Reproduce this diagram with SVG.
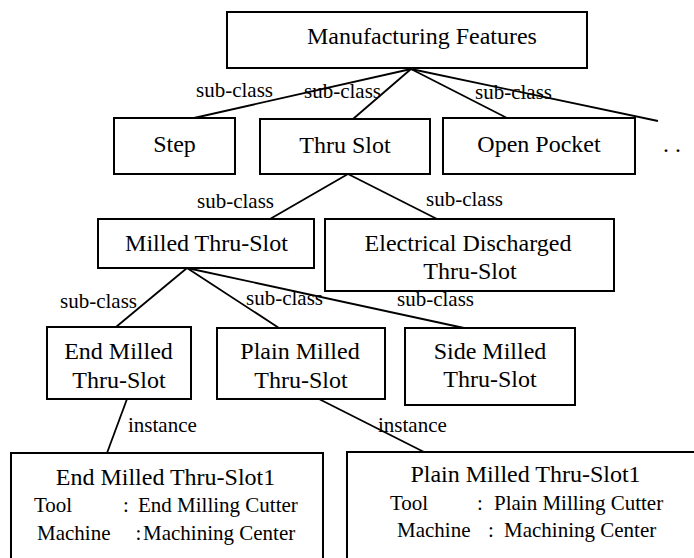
<svg xmlns="http://www.w3.org/2000/svg" width="694" height="558" viewBox="0 0 694 558">
<style>
.box{fill:#fff;stroke:#000;stroke-width:2}
.ln{stroke:#000;stroke-width:1.8;fill:none}
.t{font-family:"Liberation Serif","Times New Roman",serif;font-size:24px;fill:#000;text-anchor:middle}
.lb{font-family:"Liberation Serif","Times New Roman",serif;font-size:21px;fill:#000}
.at{font-family:"Liberation Serif","Times New Roman",serif;font-size:21px;fill:#000}
</style>
<rect width="694" height="558" fill="#fff"/>
<g id="connectors">
<line class="ln" x1="411" y1="69" x2="194" y2="118"/>
<line class="ln" x1="411" y1="69" x2="353" y2="119"/>
<line class="ln" x1="411" y1="69" x2="507" y2="118"/>
<line class="ln" x1="411" y1="69" x2="658" y2="121"/>
<line class="ln" x1="348" y1="174" x2="270" y2="219"/>
<line class="ln" x1="348" y1="174" x2="437" y2="219"/>
<line class="ln" x1="187" y1="268" x2="116" y2="327"/>
<line class="ln" x1="187" y1="268" x2="279" y2="328"/>
<line class="ln" x1="187" y1="268" x2="464" y2="328"/>
<line class="ln" x1="127" y1="399" x2="107" y2="453"/>
<line class="ln" x1="319" y1="399" x2="424" y2="452"/>
<text class="lb" x="196" y="97">sub-class</text>
<text class="lb" x="304" y="98">sub-class</text>
<text class="lb" x="475" y="99">sub-class</text>
<text class="lb" x="197" y="208">sub-class</text>
<text class="lb" x="426" y="206">sub-class</text>
<text class="lb" x="60" y="308">sub-class</text>
<text class="lb" x="246" y="305">sub-class</text>
<text class="lb" x="397" y="306">sub-class</text>
<text class="lb" x="128" y="432">instance</text>
<text class="lb" x="378" y="432">instance</text>
</g>
<g id="manufacturing-features">
<rect class="box" x="227" y="12" width="360" height="56"/>
<text class="t" x="422" y="44">Manufacturing Features</text>
</g>
<g id="step">
<rect class="box" x="114" y="118" width="121" height="56"/>
<text class="t" x="174.5" y="152">Step</text>
</g>
<g id="thru-slot">
<rect class="box" x="260" y="119" width="170" height="55"/>
<text class="t" x="345" y="153">Thru Slot</text>
</g>
<g id="open-pocket">
<rect class="box" x="443" y="118" width="192" height="56"/>
<text class="t" x="539" y="152">Open Pocket</text>
</g>
<g id="more">
<text class="t" x="672" y="152">. .</text>
</g>
<g id="milled-thru-slot">
<rect class="box" x="98" y="219" width="216" height="49"/>
<text class="t" x="206.5" y="251">Milled Thru-Slot</text>
</g>
<g id="electrical-discharged">
<rect class="box" x="325" y="219" width="289" height="72"/>
<text class="t" x="468" y="251">Electrical Discharged</text>
<text class="t" x="470" y="279">Thru-Slot</text>
</g>
<g id="end-milled">
<rect class="box" x="47" y="327" width="144" height="72"/>
<text class="t" x="118.5" y="359">End Milled</text>
<text class="t" x="119" y="388">Thru-Slot</text>
</g>
<g id="plain-milled">
<rect class="box" x="217" y="328" width="168" height="71"/>
<text class="t" x="300" y="359">Plain Milled</text>
<text class="t" x="301" y="388">Thru-Slot</text>
</g>
<g id="side-milled">
<rect class="box" x="405" y="328" width="170" height="77"/>
<text class="t" x="490" y="359">Side Milled</text>
<text class="t" x="490" y="387">Thru-Slot</text>
</g>
<g id="end-milled-instance">
<rect class="box" x="11" y="453" width="312" height="120"/>
<text class="t" x="165.5" y="485">End Milled Thru-Slot1</text>
<text class="at" x="34" y="512">Tool</text>
<text class="at" x="123" y="512">:</text>
<text class="at" x="138" y="512">End Milling Cutter</text>
<text class="at" x="37" y="540">Machine</text>
<text class="at" x="135.5" y="540">:</text>
<text class="at" x="143" y="540">Machining Center</text>
</g>
<g id="plain-milled-instance">
<rect class="box" x="347" y="452" width="360" height="120"/>
<text class="t" x="525.5" y="482">Plain Milled Thru-Slot1</text>
<text class="at" x="390" y="510">Tool</text>
<text class="at" x="477" y="510">:</text>
<text class="at" x="494" y="510">Plain Milling Cutter</text>
<text class="at" x="397" y="537">Machine</text>
<text class="at" x="488" y="537">:</text>
<text class="at" x="504" y="537">Machining Center</text>
</g>
</svg>
